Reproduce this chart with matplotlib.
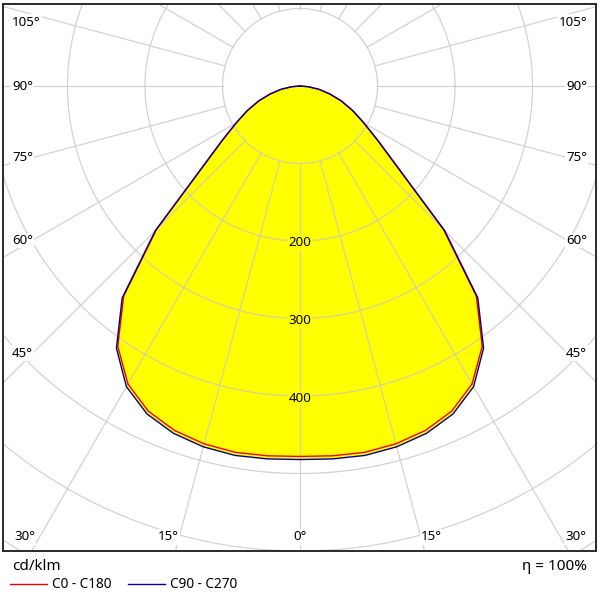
import numpy as np
import matplotlib.pyplot as plt

plt.rcParams["font.family"] = ["Noto Sans", "DejaVu Sans"]

# luminous intensity (cd/klm) per gamma angle
gamma = [0, 5, 10, 15, 20, 25, 30, 35, 40, 45, 50, 55, 60, 65, 70, 75, 80, 85, 90]
c0_c180 = [478, 479, 480, 478, 473, 463, 444, 410, 354, 262, 166, 122, 95, 75, 57, 40, 25, 11, 0]
c90_c270 = [482, 483, 484, 482, 477, 467, 448, 413, 357, 264, 167, 123, 95, 75, 57, 40, 25, 11, 0]

ring_values = [100, 200, 300, 400, 500, 600, 700]
ring_labels = [200, 300, 400]
side_angles = [45, 60, 75, 90, 105]
bottom_angles = [0, 15, 30]

PX = 0.775  # pixels per cd/klm
GRID = "#c8c8c8"
LBL = 9.6


def curve_xy(values):
    g = np.radians(np.array(gamma, dtype=float))
    r = np.array(values, dtype=float)
    theta = np.concatenate([-g[::-1], g[1:]])
    rr = np.concatenate([r[::-1], r[1:]])
    return rr * np.sin(theta), -rr * np.cos(theta)


fig = plt.figure(figsize=(6, 6), dpi=100)
ax = fig.add_axes([3 / 600, 1 - 551 / 600, 593 / 600, 547 / 600])
ax.set_xlim(-297 / PX, 296 / PX)
ax.set_ylim(-465 / PX, 82 / PX)
ax.set_xticks([])
ax.set_yticks([])
for s in ax.spines.values():
    s.set_color("#2a2a2a")
    s.set_linewidth(1.4)

# yellow area
xb, yb = curve_xy(c90_c270)
xr, yr = curve_xy(c0_c180)
ax.fill(xb, yb, color="#ffff00", lw=0, zorder=1)

# grid: rings and radial lines (from ring 100 outwards)
t = np.linspace(0, 2 * np.pi, 720)
for rv in ring_values:
    ax.plot(rv * np.cos(t), rv * np.sin(t), color=GRID, lw=0.9, alpha=0.8, zorder=2)
for a in range(0, 360, 15):
    ar = np.radians(a)
    ax.plot([100 * np.sin(ar), 1200 * np.sin(ar)], [-100 * np.cos(ar), -1200 * np.cos(ar)],
            color=GRID, lw=0.9, alpha=0.8, zorder=2)

# curves
ax.plot(xr, yr, color="#ee0000", lw=1.0, zorder=3)
ax.plot(xb, yb, color="#00009c", lw=1.0, zorder=4)

# ring labels
for rv in ring_labels:
    ax.text(0, -rv - 2 / PX, str(rv), ha="center", va="center", fontsize=LBL, zorder=5,
            bbox=dict(facecolor="#ffff00", edgecolor="none", pad=0.5))

# angle labels at the sides
lab_box = dict(facecolor="white", edgecolor="none", pad=0.8)
for a in side_angles:
    y = -(267 / PX) / np.tan(np.radians(a)) if a != 90 else 0.0
    y = min(y, 64 / PX)
    ax.text(-288 / PX, y, f"{a}°", ha="left", va="center", fontsize=LBL, zorder=5, bbox=lab_box)
    ax.text(287 / PX, y, f"{a}°", ha="right", va="center", fontsize=LBL, zorder=5, bbox=lab_box)

# angle labels at the bottom
for a in bottom_angles:
    xo = 465 / PX * np.tan(np.radians(a)) + (7 / PX if a else 0)
    for sgn in ([1, -1] if a else [1]):
        ax.text(sgn * xo, -451 / PX, f"{a}°", ha="center", va="center", fontsize=LBL,
                zorder=5, bbox=lab_box)

# footer
fig.text(12 / 600, 1 - 567 / 600, "cd/klm", ha="left", va="center", fontsize=11)
fig.text(587 / 600, 1 - 567 / 600, "η = 100%", ha="right", va="center", fontsize=11)
h1, = ax.plot([], [], color="#ee0000", lw=1.0, label="C0 - C180")
h2, = ax.plot([], [], color="#00009c", lw=1.0, label="C90 - C270")
fig.legend(handles=[h1, h2], loc="center left", bbox_to_anchor=(10 / 600, 1 - 585 / 600),
           ncol=2, frameon=False, fontsize=9.8, handlelength=2.75, handletextpad=0.35,
           columnspacing=1.2, borderpad=0, borderaxespad=0)

fig.savefig("out.png", dpi=100)
